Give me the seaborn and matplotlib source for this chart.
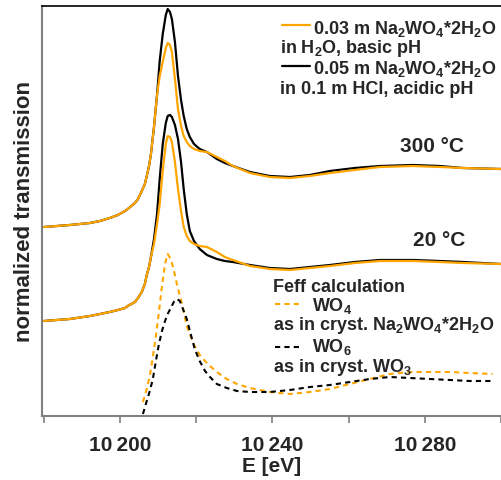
import matplotlib
matplotlib.use("Agg")
import matplotlib.pyplot as plt
from matplotlib.ticker import FixedLocator
import seaborn as sns
import pandas as pd

# ---- data ----
energy_exp = [10180.0, 10186.8, 10192.1, 10194.7, 10197.3, 10199.4, 10201.3, 10202.0,
              10203.9, 10204.7, 10205.7, 10206.5, 10207.0, 10207.6, 10208.1, 10208.9,
              10209.7, 10210.4, 10211.2, 10212.0, 10212.5, 10213.1, 10213.6, 10214.4,
              10215.2, 10216.0, 10216.7, 10217.5, 10218.3, 10219.4, 10220.9, 10222.8,
              10225.4, 10227.5, 10229.6, 10234.1, 10239.3, 10244.6, 10249.8, 10255.1,
              10261.6, 10268.2, 10276.9, 10283.9, 10290.0, 10300.0]

acid_300 = [1.89, 1.91, 1.93, 1.95, 1.98, 2.01, 2.05, 2.07, 2.13, 2.17, 2.25, 2.32,
            2.40, 2.50, 2.62, 2.89, 3.21, 3.55, 3.82, 4.01, 4.07, 4.04, 3.97, 3.74,
            3.40, 3.16, 3.00, 2.87, 2.79, 2.72, 2.67, 2.64, 2.57, 2.53, 2.50, 2.44,
            2.40, 2.39, 2.41, 2.45, 2.48, 2.50, 2.51, 2.50, 2.48, 2.47]
basic_300 = [1.89, 1.91, 1.93, 1.95, 1.98, 2.01, 2.05, 2.07, 2.13, 2.17, 2.25, 2.32,
             2.40, 2.50, 2.62, 2.89, 3.21, 3.40, 3.54, 3.68, 3.73, 3.71, 3.64, 3.37,
             3.07, 2.90, 2.80, 2.74, 2.70, 2.67, 2.65, 2.64, 2.59, 2.55, 2.50, 2.43,
             2.39, 2.38, 2.40, 2.43, 2.46, 2.49, 2.50, 2.49, 2.48, 2.47]
acid_20 = [0.95, 0.97, 1.00, 1.02, 1.04, 1.06, 1.08, 1.10, 1.14, 1.18, 1.24, 1.32,
           1.41, 1.49, 1.59, 1.77, 2.02, 2.37, 2.72, 2.93, 3.00, 3.01, 2.99, 2.91,
           2.77, 2.54, 2.27, 2.02, 1.85, 1.75, 1.67, 1.61, 1.57, 1.55, 1.54, 1.51,
           1.48, 1.47, 1.49, 1.51, 1.54, 1.56, 1.56, 1.55, 1.54, 1.52]
basic_20 = [0.95, 0.97, 1.00, 1.02, 1.04, 1.06, 1.08, 1.10, 1.14, 1.18, 1.24, 1.32,
            1.41, 1.49, 1.59, 1.72, 1.92, 2.12, 2.45, 2.72, 2.80, 2.79, 2.74, 2.54,
            2.27, 2.05, 1.89, 1.80, 1.75, 1.72, 1.70, 1.69, 1.64, 1.59, 1.56, 1.50,
            1.47, 1.46, 1.48, 1.50, 1.53, 1.55, 1.55, 1.54, 1.53, 1.52]

energy_feff = [10206.0, 10207.0, 10207.8, 10208.6, 10209.4, 10210.2, 10211.0, 10211.8,
               10212.5, 10213.3, 10214.1, 10214.9, 10215.7, 10216.5, 10217.5, 10218.6,
               10219.6, 10220.9, 10222.3, 10223.6, 10225.4, 10228.0, 10230.7, 10234.1,
               10239.3, 10244.6, 10249.8, 10255.1, 10260.3, 10265.6, 10270.8, 10276.1,
               10281.3, 10286.6, 10291.8, 10297.8]
feff_wo4 = [0.14, 0.27, 0.40, 0.59, 0.80, 1.04, 1.30, 1.52, 1.62, 1.57, 1.46, 1.32,
            1.20, 1.08, 0.90, 0.79, 0.70, 0.61, 0.55, 0.50, 0.44, 0.37, 0.32, 0.28,
            0.24, 0.22, 0.24, 0.27, 0.32, 0.37, 0.42, 0.44, 0.44, 0.44, 0.43, 0.42]
feff_wo6 = [0.02, 0.15, 0.25, 0.37, 0.55, 0.72, 0.85, 0.95, 1.02, 1.08, 1.14, 1.17,
            1.15, 1.07, 0.97, 0.81, 0.67, 0.55, 0.45, 0.39, 0.32, 0.28, 0.25, 0.24,
            0.24, 0.26, 0.29, 0.31, 0.34, 0.37, 0.39, 0.38, 0.37, 0.36, 0.35, 0.35]

xtick_major = [10200, 10240, 10280]
xtick_labels = ["10\u2009200", "10\u2009240", "10\u2009280"]
xtick_minor = [10180, 10220, 10260, 10300]

ORANGE = "#FFA500"
BLACK = "#000000"
GREY = "#808080"

sns.set_style("white")
plt.rcParams["font.family"] = ["Liberation Sans", "DejaVu Sans"]
plt.rcParams["font.weight"] = "bold"
plt.rcParams["mathtext.fontset"] = "custom"
plt.rcParams["mathtext.rm"] = "Liberation Sans:bold"
plt.rcParams["mathtext.bf"] = "Liberation Sans:bold"
plt.rcParams["mathtext.it"] = "Liberation Sans:bold:italic"
plt.rcParams["mathtext.default"] = "rm"

fig = plt.figure(figsize=(5.01, 4.81), dpi=100)
ax = fig.add_axes([42 / 501, 64 / 481, 459 / 501, 410 / 481])

dash = (0, (2.5, 2))

# measured spectra (black first, orange on top)
for y, c in [(acid_300, BLACK), (acid_20, BLACK), (basic_300, ORANGE), (basic_20, ORANGE)]:
    df = pd.DataFrame({"E": energy_exp, "mu": y})
    sns.lineplot(data=df, x="E", y="mu", color=c, lw=1.6, sort=False,
                 estimator=None, ax=ax)
    ax.lines[-1].set_solid_joinstyle("round")

# Feff calculations
for y, c in [(feff_wo4, ORANGE), (feff_wo6, BLACK)]:
    df = pd.DataFrame({"E": energy_feff, "mu": y})
    sns.lineplot(data=df, x="E", y="mu", color=c, lw=1.5, sort=False,
                 estimator=None, ax=ax)
    ax.lines[-1].set_linestyle(dash)

ax.set_xlim(10179.5, 10300)
ax.set_ylim(0, 4.10)
ax.set_yticks([])
ax.xaxis.set_major_locator(FixedLocator(xtick_major))
ax.set_xticklabels(xtick_labels)
ax.xaxis.set_minor_locator(FixedLocator(xtick_minor))
ax.tick_params(axis="x", which="both", direction="out", length=5, width=1.2,
               color=GREY, bottom=True, labelsize=15, pad=9)
for lab in ax.get_xticklabels():
    lab.set_fontweight("bold")

ax.set_xlabel("E [eV]", fontsize=15, fontweight="bold", labelpad=1)
ax.set_ylabel("normalized transmission", fontsize=16, fontweight="bold")
ax.yaxis.set_label_coords(-0.015, 0.5)

for side in ["left", "bottom"]:
    ax.spines[side].set_color(GREY)
    ax.spines[side].set_linewidth(1.5)
ax.spines["top"].set_color(BLACK)
ax.spines["top"].set_linewidth(1.2)
ax.spines["right"].set_visible(False)


def fx(px):
    return (px - 42) / 459


def fy(py):
    return (417 - py) / 410


kw = dict(transform=ax.transAxes, fontsize=13, fontweight="bold", va="baseline", ha="left")

# legend for the measured spectra
ax.plot([fx(282), fx(310)], [fy(26), fy(26)], color=ORANGE, lw=1.6, transform=ax.transAxes)
ax.text(fx(313), fy(34), "0.03 m Na$_2$WO$_4$*2H$_2$O", **kw)
ax.text(fx(280), fy(53), "in H$_2$O, basic pH", **kw)
ax.plot([fx(282), fx(310)], [fy(67), fy(67)], color=BLACK, lw=1.6, transform=ax.transAxes)
ax.text(fx(313), fy(74), "0.05 m Na$_2$WO$_4$*2H$_2$O", **kw)
ax.text(fx(280), fy(94), "in 0.1 m HCl, acidic pH", **kw)

ax.text(fx(400), fy(152), "300 °C", transform=ax.transAxes, fontsize=15,
        fontweight="bold", va="baseline", ha="left")
ax.text(fx(413), fy(246), "20 °C", transform=ax.transAxes, fontsize=15,
        fontweight="bold", va="baseline", ha="left")

# legend for the Feff calculations
ax.text(fx(273), fy(292), "Feff calculation", **kw)
ax.plot([fx(275), fx(300)], [fy(305), fy(305)], color=ORANGE, lw=1.5, ls=dash,
        transform=ax.transAxes)
ax.text(fx(312), fy(311), "WO$_4$", **kw)
ax.text(fx(273), fy(330), "as in cryst. Na$_2$WO$_4$*2H$_2$O", **kw)
ax.plot([fx(275), fx(300)], [fy(348), fy(348)], color=BLACK, lw=1.5, ls=dash,
        transform=ax.transAxes)
ax.text(fx(312), fy(352), "WO$_6$", **kw)
ax.text(fx(273), fy(372), "as in cryst. WO$_3$", **kw)

fig.savefig("out.png", dpi=100)
